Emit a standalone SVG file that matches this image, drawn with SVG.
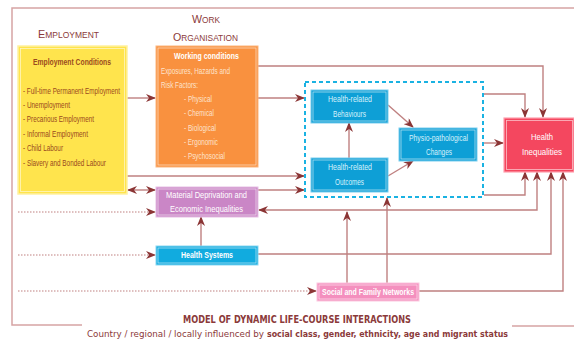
<svg xmlns="http://www.w3.org/2000/svg" width="574" height="341" viewBox="0 0 574 341">
<defs>
<marker id="ah" viewBox="0 0 10 8" refX="9" refY="4" markerWidth="10" markerHeight="8" markerUnits="userSpaceOnUse" orient="auto-start-reverse">
<path d="M0,0 L10,4 L0,8 L3,4 z" fill="#8B3535"/>
</marker>
</defs>
<style>
text{font-family:"Liberation Sans Narrow","Liberation Sans",Arial,sans-serif;}
.ttl{fill:#8B3A3A;}
.yel{fill:#9A4A1E;font-size:9px;}
.wh{fill:#ffffff;}
.lt{fill:#FDE3CC;font-size:9px;}
.bl{fill:#D8F1FB;font-size:9px;}
.ln{fill:none;stroke:#BF8080;stroke-width:1.4;}
.dot{fill:none;stroke:#BF8080;stroke-width:1.2;stroke-dasharray:1.5 1.5;}
.frame{fill:none;stroke:#D6A4A4;stroke-width:1.5;}
.inner{fill:none;stroke:#ffffff;stroke-opacity:0.65;stroke-width:0.8;}
.cap{fill:#8B3A3A;font-family:"DejaVu Sans","Liberation Sans",sans-serif;}
</style>
<rect width="574" height="341" fill="#ffffff"/>
<path class="frame" d="M82,325 L12,325 L12,8 L574,8 M512,326 L574,326"/>

<g id="titles">
<text class="ttl" x="38" y="38" textLength="61" lengthAdjust="spacingAndGlyphs"><tspan font-size="11.5">E</tspan><tspan font-size="9">MPLOYMENT</tspan></text>
<text class="ttl" x="192" y="23" textLength="28" lengthAdjust="spacingAndGlyphs"><tspan font-size="11.5">W</tspan><tspan font-size="9">ORK</tspan></text>
<text class="ttl" x="173" y="41" textLength="65" lengthAdjust="spacingAndGlyphs"><tspan font-size="11.5">O</tspan><tspan font-size="9">RGANISATION</tspan></text>
</g>

<g id="connectors">
<path class="ln" d="M127,98 L155,98" marker-end="url(#ah)"/>
<path class="ln" d="M258,98 L304,98" marker-end="url(#ah)"/>
<path class="ln" d="M258,66 L543,66 L543,117" marker-end="url(#ah)"/>
<path class="ln" d="M127,176 L304,176" marker-end="url(#ah)"/>
<path class="ln" d="M128,190 L155,190" marker-start="url(#ah)" marker-end="url(#ah)"/>
<path class="ln" d="M258,190 L304,190" marker-end="url(#ah)"/>
<path class="ln" d="M259,210 L537,210 L537,172" marker-start="url(#ah)" marker-end="url(#ah)"/>
<path class="ln" d="M484,195 L525,195 L525,172" marker-end="url(#ah)"/>
<path class="ln" d="M258,254 L551,254 L551,172" marker-end="url(#ah)"/>
<path class="ln" d="M419,291 L563,291 L563,172" marker-end="url(#ah)"/>
<path class="ln" d="M347,283 L347,212" marker-end="url(#ah)"/>
<path class="ln" d="M387,283 L387,198" marker-end="url(#ah)"/>
<path class="ln" d="M201,246 L201,217" marker-end="url(#ah)"/>
<path class="ln" d="M349,158 L349,123" marker-end="url(#ah)"/>
<path class="ln" d="M388,105 L413,127" marker-end="url(#ah)"/>
<path class="ln" d="M388,176 L413,161" marker-end="url(#ah)"/>
<path class="ln" d="M484,143 L503,143" marker-end="url(#ah)"/>
<path class="ln" d="M484,94 L525,94 L525,117" marker-end="url(#ah)"/>
<path class="dot" d="M18,212 L155,212" marker-end="url(#ah)"/>
<path class="dot" d="M18,255 L155,255" marker-end="url(#ah)"/>
<path class="dot" d="M18,291 L316,291" marker-end="url(#ah)"/>
</g>

<g id="employment">
<rect x="18" y="46" width="109" height="148" fill="#FFE44D" stroke="#FFF1A0" stroke-width="1.5"/>
<rect x="20.5" y="48.5" width="104" height="143" class="inner"/>
<text class="yel" x="33" y="65" font-weight="bold" textLength="78" lengthAdjust="spacingAndGlyphs">Employment Conditions</text>
<text class="yel" x="23" y="94" textLength="97" lengthAdjust="spacingAndGlyphs">- Full-time Permanent Employment</text>
<text class="yel" x="23" y="108" textLength="47" lengthAdjust="spacingAndGlyphs">- Unemployment</text>
<text class="yel" x="23" y="122" textLength="71" lengthAdjust="spacingAndGlyphs">- Precarious Employment</text>
<text class="yel" x="23" y="137" textLength="65" lengthAdjust="spacingAndGlyphs">- Informal Employment</text>
<text class="yel" x="23" y="151" textLength="40" lengthAdjust="spacingAndGlyphs">- Child Labour</text>
<text class="yel" x="23" y="166" textLength="83" lengthAdjust="spacingAndGlyphs">- Slavery and  Bonded Labour</text>
</g>

<g id="working-conditions">
<rect x="156" y="46" width="102" height="121" fill="#F9913F" stroke="#FBB57E" stroke-width="1"/>
<rect x="158" y="48" width="98" height="117" class="inner"/>
<text class="wh" x="174" y="59" font-size="9" font-weight="bold" textLength="65" lengthAdjust="spacingAndGlyphs">Working conditions</text>
<text class="lt" x="161" y="74" textLength="69" lengthAdjust="spacingAndGlyphs">Exposures, Hazards  and</text>
<text class="lt" x="161" y="88" textLength="37" lengthAdjust="spacingAndGlyphs">Risk Factors:</text>
<text class="lt" x="184" y="102" textLength="28" lengthAdjust="spacingAndGlyphs">- Physical</text>
<text class="lt" x="184" y="116" textLength="30" lengthAdjust="spacingAndGlyphs">- Chemical</text>
<text class="lt" x="184" y="131" textLength="32" lengthAdjust="spacingAndGlyphs">- Biological</text>
<text class="lt" x="184" y="145" textLength="34" lengthAdjust="spacingAndGlyphs">- Ergonomic</text>
<text class="lt" x="184" y="159" textLength="41" lengthAdjust="spacingAndGlyphs">- Psychosocial</text>
</g>

<g id="individual-health">
<rect x="305" y="82" width="178" height="115" fill="none" stroke="#1AB2E2" stroke-width="2" stroke-dasharray="4 3"/>
</g>

<g id="behaviours">
<rect x="311" y="90" width="77" height="33" fill="#0E9FD6" stroke="#7ACDEE" stroke-width="1"/>
<rect x="313" y="92" width="73" height="29" class="inner"/>
<text class="bl" x="328" y="102" textLength="44" lengthAdjust="spacingAndGlyphs">Health-related</text>
<text class="bl" x="333" y="117" textLength="33" lengthAdjust="spacingAndGlyphs">Behaviours</text>
</g>

<g id="outcomes">
<rect x="311" y="158" width="77" height="34" fill="#0E9FD6" stroke="#7ACDEE" stroke-width="1"/>
<rect x="313" y="160" width="73" height="30" class="inner"/>
<text class="bl" x="328" y="170" textLength="44" lengthAdjust="spacingAndGlyphs">Health-related</text>
<text class="bl" x="335" y="185" textLength="29" lengthAdjust="spacingAndGlyphs">Outcomes</text>
</g>

<g id="physio">
<rect x="399" y="128" width="78" height="33" fill="#0E9FD6" stroke="#7ACDEE" stroke-width="1"/>
<rect x="401" y="130" width="74" height="29" class="inner"/>
<text class="bl" x="409" y="141" textLength="59" lengthAdjust="spacingAndGlyphs">Physio-pathological</text>
<text class="bl" x="426" y="155" textLength="26" lengthAdjust="spacingAndGlyphs">Changes</text>
</g>

<g id="health-inequalities">
<rect x="504" y="118" width="70" height="54" fill="#F4475F" stroke="#FFA0AE" stroke-width="1.2"/>
<rect x="506.5" y="120.5" width="66" height="49" class="inner"/>
<text class="wh" x="531" y="140" font-size="9.5" textLength="22" lengthAdjust="spacingAndGlyphs">Health</text>
<text class="wh" x="522" y="155" font-size="9.5" textLength="40" lengthAdjust="spacingAndGlyphs">Inequalities</text>
</g>

<g id="material-deprivation">
<rect x="156" y="187" width="102" height="30" fill="#CA86C6" stroke="#E6C0E4" stroke-width="1"/>
<rect x="158" y="189" width="98" height="26" class="inner"/>
<text class="wh" x="166" y="198" font-size="9" textLength="81" lengthAdjust="spacingAndGlyphs">Material Deprivation and</text>
<text class="wh" x="170" y="212" font-size="9" textLength="73" lengthAdjust="spacingAndGlyphs">Economic Inequalities</text>
</g>

<g id="health-systems">
<rect x="156" y="246" width="102" height="19" fill="#11ABDF" stroke="#8BD7F2" stroke-width="1"/>
<rect x="158" y="248" width="98" height="15" class="inner"/>
<text class="wh" x="181" y="258" font-size="9" font-weight="bold" textLength="52" lengthAdjust="spacingAndGlyphs">Health Systems</text>
</g>

<g id="social-networks">
<rect x="317" y="283" width="102" height="18" fill="#F48FBE" stroke="#FBC8DF" stroke-width="1"/>
<rect x="319" y="285" width="98" height="14" class="inner"/>
<text class="wh" x="322" y="295" font-size="9" font-weight="bold" textLength="92" lengthAdjust="spacingAndGlyphs">Social and Family Networks</text>
</g>

<g id="caption">
<text class="cap" x="183" y="323" font-size="10" font-weight="bold" textLength="228" lengthAdjust="spacingAndGlyphs">MODEL OF DYNAMIC LIFE-COURSE INTERACTIONS</text>
<text class="cap" x="87" y="337" font-size="9.5" textLength="177" lengthAdjust="spacingAndGlyphs">Country / regional / locally influenced by</text>
<text class="cap" x="267" y="337" font-size="9.5" font-weight="bold" textLength="241" lengthAdjust="spacingAndGlyphs">social class, gender, ethnicity, age and migrant status</text>
</g>
</svg>
